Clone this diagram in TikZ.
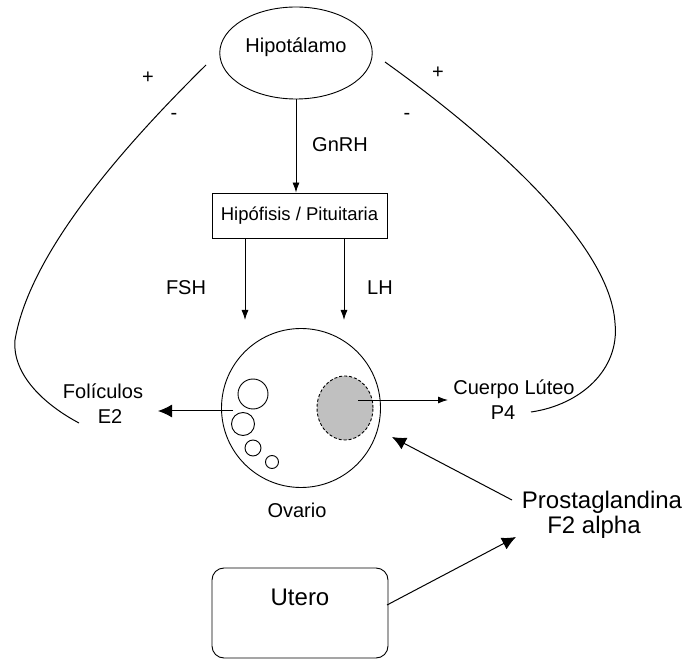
\documentclass[tikz,border=0pt]{standalone}
\usepackage{fontspec}
\setmainfont{Liberation Sans}
\usepackage{xcolor}
\usetikzlibrary{shapes.geometric,arrows.meta}
\definecolor{lutgray}{RGB}{192,192,192}

\begin{document}
\begin{tikzpicture}[x=1pt,y=-1pt,
    lbl/.style={font=\fontsize{20}{25}\selectfont,inner sep=0pt,align=center},
    biglbl/.style={font=\fontsize{24}{25}\selectfont,inner sep=0pt,align=center},
    signlbl/.style={font=\fontsize{20}{20}\selectfont,inner sep=0pt},
    follicle/.style={draw,circle,line width=0.9pt,inner sep=0pt},
    thin arrow/.style={line width=0.9pt,-{Latex[length=10pt,width=7pt]}},
    thick arrow/.style={line width=1pt,-{Latex[length=14pt,width=13pt]}},
    loop line/.style={line width=1pt}]
      \useasboundingbox (0,0) rectangle (686,660);
      % organs
      \node[draw,ellipse,line width=0.9pt,minimum width=136,minimum height=92,
        text depth=16pt,font=\fontsize{20}{24}\selectfont] (hipo) at (296,53) {Hipotálamo};
      \node[draw,rectangle,line width=0.9pt,minimum width=175,minimum height=45,
        font=\fontsize{18.5}{22}\selectfont] (hipofisis) at (299.5,215.5) {Hipófisis / Pituitaria};
      \node[draw,circle,line width=0.9pt,minimum size=159] (ovario) at (301,408) {};
      \node[lbl] (ovtext) at (297,510) {Ovario};
      \node[draw,rectangle,rounded corners=12pt,line width=0.9pt,minimum width=176,
        minimum height=90,text depth=32pt,font=\fontsize{24}{28}\selectfont] (utero) at (300,613) {Utero};
      % follicles and corpus luteum
      \node[follicle,minimum size=30] (fol1) at (253,394) {};
      \node[follicle,minimum size=23] (fol2) at (243,424) {};
      \node[follicle,minimum size=16] (fol3) at (253,448) {};
      \node[follicle,minimum size=13] (fol4) at (272,462) {};
      \node[draw,ellipse,densely dashed,line width=0.9pt,fill=lutgray,
        minimum width=56,minimum height=64] (luteo) at (345,408) {};
      % labels
      \node[lbl] (gnrh) at (340,145) {GnRH};
      \node[lbl] (fsh) at (186,288) {FSH};
      \node[lbl] (lh) at (380,288) {LH};
      \node[lbl] (foliculos) at (103,404) {Folículos\\\hspace*{14pt}E2};
      \node[lbl] (cuerpo) at (514,400) {Cuerpo Lúteo\\P4\hspace*{22pt}};
      \node[biglbl] (prosta) at (602,514.5) {Prostaglandina\\F2 alpha\hspace*{16pt}};
      \node[signlbl] (plusl) at (148,78) {+};
      \node[signlbl] (minusl) at (174,116) {-};
      \node[signlbl] (plusr) at (438,73) {+};
      \node[signlbl] (minusr) at (407,116) {-};
      % connector ends
      \coordinate (fshtip) at (245,320);
      \coordinate (lhtip) at (344,320);
      \coordinate (folstart) at (233,411);
      \coordinate (foltip) at (158,411);
      \coordinate (lutstart) at (358,400);
      \coordinate (luttip) at (448,400);
      \coordinate (prostart) at (512,500);
      \coordinate (ovtip) at (392,437);
      \coordinate (utstart) at (387,605);
      \coordinate (prostip) at (516,537);
      \coordinate (loopl) at (206,65);
      \coordinate (loopr) at (385,62);
      % arrows
      \draw[thin arrow] (hipo.south) -- (hipo.south |- hipofisis.north);
      \draw[thin arrow] (hipofisis.south -| fshtip) -- (fshtip);
      \draw[thin arrow] (hipofisis.south -| lhtip) -- (lhtip);
      \draw[thick arrow] (folstart) -- (foltip);
      \draw[thin arrow] (lutstart) -- (luttip);
      \draw[thick arrow] (prostart) -- (ovtip);
      \draw[thick arrow] (utstart) -- (prostip);
      % feedback loops
      \draw[loop line] (loopl)
        .. controls (130,140) and (30,250) ..
        (15,340)
        .. controls (12,375) and (45,405) ..
        (79,423);
      \draw[loop line] (loopr)
        .. controls (480,130) and (610,240) ..
        (615,323)
        .. controls (620,370) and (580,405) ..
        (531,412);
\end{tikzpicture}
\end{document}
